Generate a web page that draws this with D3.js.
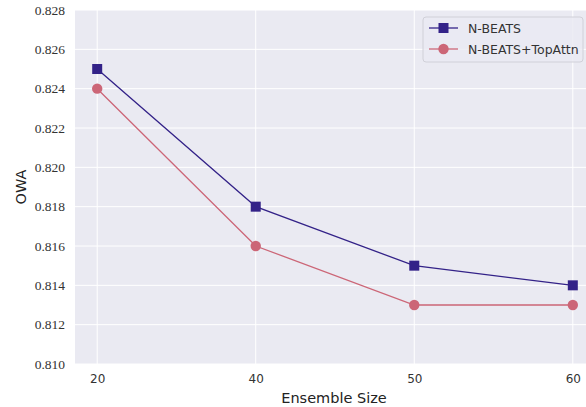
<!DOCTYPE html>
<html>
<head>
<meta charset="utf-8">
<script src="https://cdn.jsdelivr.net/npm/d3@7"></script>
<style>
  body { margin: 0; background: #fff; }
  svg { display: block; }
</style>
</head>
<body>
<svg id="chart" width="586" height="407"></svg>
<script>
// data
const ensembleSizes = ["20", "40", "50", "60"];
const nbeats = [0.825, 0.818, 0.815, 0.814];
const nbeatsTopAttn = [0.824, 0.816, 0.813, 0.813];
const yTicks = [0.810, 0.812, 0.814, 0.816, 0.818, 0.820, 0.822, 0.824, 0.826, 0.828];
const seriesNames = ["N-BEATS", "N-BEATS+TopAttn"];

const svg = d3.select("#chart"),
    margin = { top: 10, right: -9, bottom: 43, left: 75 },
    iwidth = +svg.attr("width") - margin.left - margin.right,
    iheight = +svg.attr("height") - margin.top - margin.bottom,
    g = svg.append("g").attr("transform", "translate(" + margin.left + "," + margin.top + ")");

const x = d3.scalePoint()
  .domain(ensembleSizes)
  .range([0, iwidth])
  .padding(0.14);

const y = d3.scaleLinear()
  .domain([0.810, 0.828])
  .range([iheight, 0]);

// background
g.append("rect")
  .attr("width", iwidth).attr("height", iheight)
  .attr("fill", "#eaeaf2");

// grid
g.append("g").selectAll("line")
  .data(yTicks).enter().append("line")
  .attr("x1", 0).attr("x2", iwidth)
  .attr("y1", d => y(d)).attr("y2", d => y(d))
  .attr("stroke", "#fff").attr("stroke-width", 1);

g.append("g").selectAll("line")
  .data(ensembleSizes).enter().append("line")
  .attr("x1", d => x(d)).attr("x2", d => x(d))
  .attr("y1", 0).attr("y2", iheight)
  .attr("stroke", "#fff").attr("stroke-width", 1);

// axes
const yAxis = g.append("g")
  .call(d3.axisLeft(y).tickValues(yTicks).tickFormat(d3.format(".3f")).tickSize(0).tickPadding(10));
yAxis.select(".domain").remove();
yAxis.selectAll("text")
  .style("font-family", "'Liberation Serif', serif")
  .style("font-size", "13.5px")
  .attr("fill", "#333");

const xAxis = g.append("g")
  .attr("transform", "translate(0," + iheight + ")")
  .call(d3.axisBottom(x).tickSize(0).tickPadding(10));
xAxis.select(".domain").remove();
xAxis.selectAll("text")
  .attr("font-family", "'DejaVu Sans', sans-serif")
  .attr("font-size", 12)
  .attr("fill", "#333");

svg.append("text")
  .attr("x", 334).attr("y", 403)
  .attr("text-anchor", "middle")
  .attr("font-family", "'DejaVu Sans', sans-serif")
  .attr("font-size", 14.5)
  .attr("fill", "#222")
  .text("Ensemble Size");

svg.append("text")
  .attr("transform", "translate(26," + (margin.top + iheight / 2) + ") rotate(-90)")
  .attr("text-anchor", "middle")
  .attr("font-family", "'DejaVu Sans', sans-serif")
  .attr("font-size", 14.5)
  .attr("fill", "#222")
  .text("OWA");

// lines
const colors = ["#332288", "#cc6677"];
const seriesData = [nbeats, nbeatsTopAttn];

const line = d3.line()
  .x((d, i) => x(ensembleSizes[i]))
  .y(d => y(d));

seriesData.forEach(function (vals, k) {
  g.append("path")
    .datum(vals)
    .attr("fill", "none")
    .attr("stroke", colors[k])
    .attr("stroke-width", 1.3)
    .attr("d", line);
});

// markers
g.selectAll(".sq")
  .data(nbeats).enter()
  .append("rect").attr("class", "sq")
  .attr("x", (d, i) => x(ensembleSizes[i]) - 5)
  .attr("y", d => y(d) - 5)
  .attr("width", 10).attr("height", 10)
  .attr("fill", colors[0]);

g.selectAll(".dot")
  .data(nbeatsTopAttn).enter()
  .append("circle").attr("class", "dot")
  .attr("cx", (d, i) => x(ensembleSizes[i]))
  .attr("cy", d => y(d))
  .attr("r", 5.2)
  .attr("fill", colors[1]);

// legend
const leg = svg.append("g").attr("transform", "translate(423,17)");
leg.append("rect")
  .attr("width", 160).attr("height", 45)
  .attr("rx", 3)
  .attr("fill", "#eaeaf2").attr("fill-opacity", 0.8)
  .attr("stroke", "#d0d0d8");

seriesNames.forEach(function (name, k) {
  const row = leg.append("g").attr("transform", "translate(0," + (11 + k * 21) + ")");
  row.append("line")
    .attr("x1", 6).attr("x2", 35)
    .attr("stroke", colors[k]).attr("stroke-width", 1.3);
  if (k === 0) {
    row.append("rect").attr("x", 15.5).attr("y", -5).attr("width", 10).attr("height", 10).attr("fill", colors[0]);
  } else {
    row.append("circle").attr("cx", 20.5).attr("r", 5.2).attr("fill", colors[1]);
  }
  row.append("text")
    .attr("x", 45).attr("y", 4.5)
    .attr("font-family", "'DejaVu Sans', sans-serif")
    .attr("font-size", 12.5)
    .attr("fill", "#333")
    .text(name);
});
</script>
</body>
</html>
